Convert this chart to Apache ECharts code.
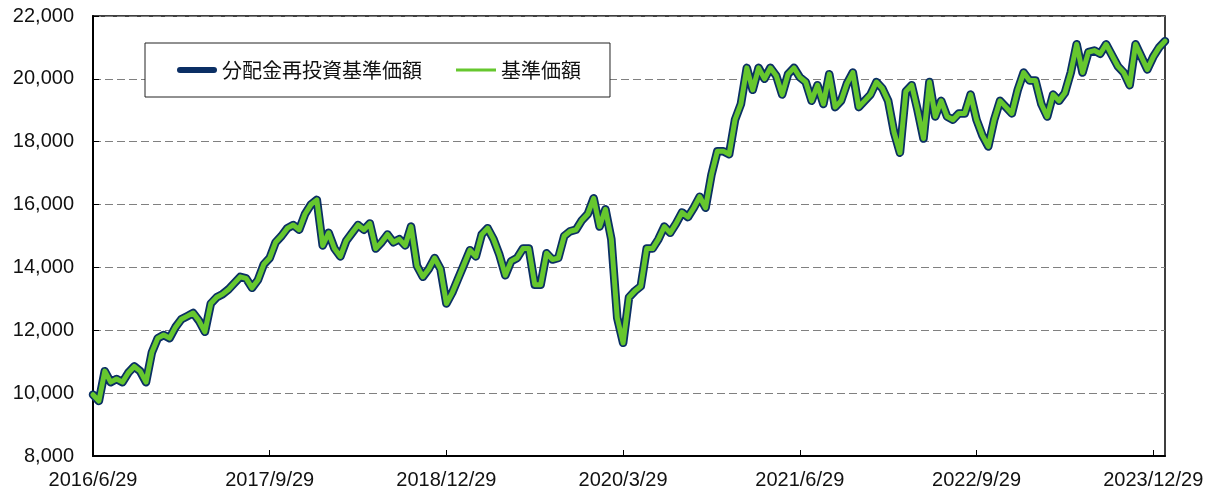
<!DOCTYPE html>
<html>
<head>
<meta charset="utf-8">
<script src="https://cdn.jsdelivr.net/npm/echarts@6/dist/echarts.min.js"></script>
<style>
  html, body { margin: 0; padding: 0; background: #fff; }
  #main { width: 1208px; height: 493px; }
</style>
</head>
<body>
<div id="main"></div>
<script>
// 半月ごとの基準価額（2016/6/29 ～ 2024/1 頃）
var navValues = [
  9950, 9750, 10700, 10350, 10450, 10350, 10650, 10850, 10700, 10350,
  11300, 11750, 11850, 11750, 12100, 12350, 12450, 12550, 12300, 11950,
  12850, 13050, 13150, 13300, 13500, 13700, 13650, 13350, 13600, 14100,
  14300, 14800, 15000, 15250, 15350, 15200, 15700, 16000, 16150, 14700,
  15100, 14600, 14350, 14850, 15100, 15350, 15200, 15400, 14600, 14800,
  15050, 14800, 14900, 14700, 15300, 14050, 13700, 13950, 14300, 13950,
  12850, 13200, 13650, 14100, 14550, 14350, 15050, 15250, 14900, 14400,
  13750, 14200, 14300, 14600, 14600, 13450, 13450, 14450, 14250, 14300,
  15000, 15150, 15200, 15500, 15700, 16200, 15300, 15850, 14900, 12400,
  11600, 13050, 13250, 13400, 14600, 14600, 14900, 15300, 15100, 15400,
  15750, 15600, 15900, 16250, 15900, 16950, 17700, 17700, 17600, 18700,
  19200, 20350, 19650, 20350, 20000, 20350, 20100, 19500, 20150, 20350,
  20050, 19900, 19300, 19800, 19200, 20150, 19100, 19300, 19850, 20200,
  19100, 19300, 19500, 19900, 19700, 19300, 18300, 17650, 19600, 19800,
  19000, 18100, 19900, 18800, 19300, 18800, 18700, 18900, 18900, 19500,
  18700, 18200, 17850, 18700, 19300, 19100, 18900, 19650, 20200, 19950,
  19950, 19200, 18800, 19500, 19300, 19550, 20200, 21100, 20200, 20850,
  20900, 20800, 21100, 20750, 20400, 20200, 19800, 21100, 20700, 20300,
  20700, 21000, 21200
];
// 分配金なしのため分配金再投資基準価額は基準価額と同じ
var reinvestValues = navValues.slice();

var seriesNames = ['分配金再投資基準価額', '基準価額'];
var yTicks = [8000, 10000, 12000, 14000, 16000, 18000, 20000, 22000];

// 日付カテゴリ（半月刻み、偶数番目が各月29日）
var categories = [];
for (var i = 0; i < navValues.length; i++) {
    var m = 6 + Math.floor(i / 2);
    var y = 2016 + Math.floor((m - 1) / 12);
    var mm = ((m - 1) % 12) + 1;
    categories.push(y + '/' + mm + '/' + (i % 2 === 0 ? 29 : 14));
}

var chart = echarts.init(document.getElementById('main'));

var option = {
    animation: false,
    grid: {
        left: 93,
        right: 43,
        top: 16,
        bottom: 37,
        show: true,
        borderColor: '#000',
        borderWidth: 1.5
    },
    legend: {
        left: 145,
        top: 43,
        padding: [16, 29, 16, 32],
        borderColor: '#222',
        borderWidth: 1,
        backgroundColor: '#fff',
        itemWidth: 40,
        itemHeight: 7,
        itemGap: 34,
        textStyle: {
            fontFamily: 'Noto Sans CJK JP',
            fontSize: 20,
            color: '#111',
            lineHeight: 22
        },
        data: [
            { name: seriesNames[0], icon: 'path://M3,0 L37,0 A3,3 0 0 1 37,6 L3,6 A3,3 0 0 1 3,0 Z' },
            { name: seriesNames[1], icon: 'path://M0,0 L40,0 L40,3 L0,3 Z' }
        ]
    },
    xAxis: {
        type: 'category',
        boundaryGap: false,
        data: categories,
        axisLine: { lineStyle: { color: '#000', width: 2 } },
        axisTick: {
            inside: true,
            length: 6,
            interval: 29,
            lineStyle: { color: '#000', width: 1 }
        },
        axisLabel: {
            interval: 29,
            margin: 14,
            color: '#111',
            fontSize: 20,
            fontFamily: 'Liberation Sans'
        },
        splitLine: { show: false }
    },
    yAxis: {
        type: 'value',
        min: yTicks[0],
        max: yTicks[yTicks.length - 1],
        interval: 2000,
        axisLine: { show: true, lineStyle: { color: '#000', width: 2 } },
        axisTick: { show: true, inside: true, length: 6, lineStyle: { color: '#000' } },
        axisLabel: {
            margin: 19,
            color: '#111',
            fontSize: 20,
            fontFamily: 'Liberation Sans',
            formatter: function (v) {
                return v.toString().replace(/\B(?=(\d{3})+(?!\d))/g, ',');
            }
        },
        splitLine: {
            show: true,
            lineStyle: { color: '#808080', type: [8, 4], width: 1 }
        }
    },
    series: [
        {
            name: seriesNames[0],
            type: 'line',
            data: reinvestValues,
            symbol: 'none',
            color: '#0b2f64',
            lineStyle: { width: 8.5, color: '#0b2f64', cap: 'round', join: 'round' },
            z: 2
        },
        {
            name: seriesNames[1],
            type: 'line',
            data: navValues,
            symbol: 'none',
            color: '#66c72e',
            lineStyle: { width: 5, color: '#66c72e', cap: 'round', join: 'round' },
            z: 3
        }
    ]
};

chart.setOption(option);
</script>
</body>
</html>
